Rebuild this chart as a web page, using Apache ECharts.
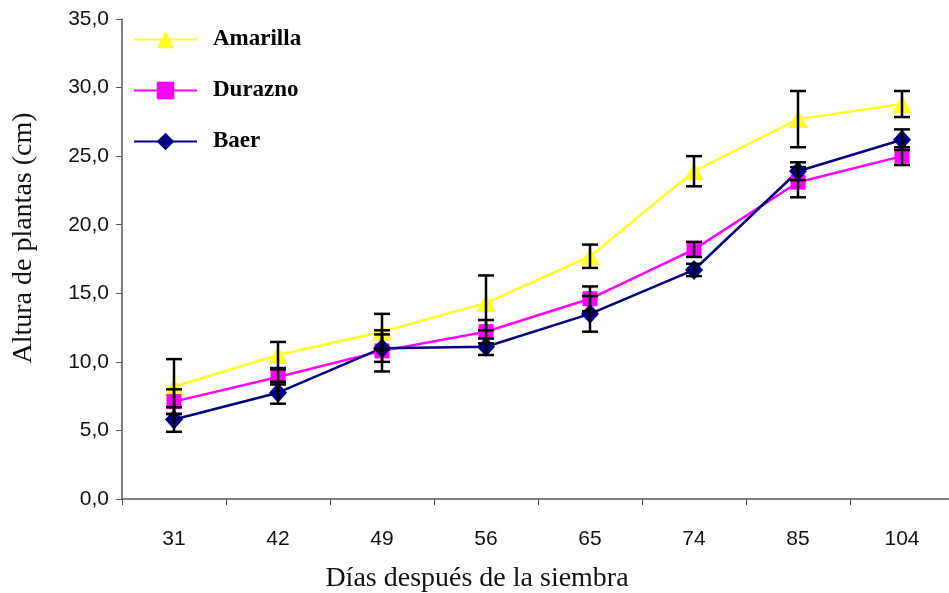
<!DOCTYPE html>
<html>
<head>
<meta charset="utf-8">
<script src="https://cdn.jsdelivr.net/npm/echarts@6/dist/echarts.min.js"></script>
<style>
  html, body { margin: 0; padding: 0; background: #ffffff; }
  #chart { width: 949px; height: 593px; }
</style>
</head>
<body>
<div id="chart"></div>
<script>
// Days after sowing
const days = ['31', '42', '49', '56', '65', '74', '85', '104'];

// Mean plant height (cm) per variety
const amarilla = [8.2, 10.5, 12.2, 14.3, 17.7, 23.9, 27.7, 28.8];
const durazno  = [7.1, 8.9, 10.8, 12.2, 14.6, 18.2, 23.1, 25.0];
const baer     = [5.8, 7.75, 11.0, 11.1, 13.5, 16.7, 23.9, 26.2];

// Standard error (cm) per point
const amarillaErr = [2.0, 0.95, 1.3, 2.0, 0.85, 1.1, 2.05, 0.95];
const duraznoErr  = [0.9, 0.55, 1.5, 0.85, 0.9, 0.55, 1.1, 0.65];
const baerErr     = [0.9, 0.8, 1.0, 0.6, 1.3, 0.45, 0.65, 0.75];

const yTicks = { min: 0, max: 35, interval: 5 };

const serifFont = '"Liberation Serif", "DejaVu Serif", serif';
const sansFont = '"Liberation Sans", Arial, sans-serif';

const chart = echarts.init(document.getElementById('chart'));

function errorSeries(name, values, errs) {
  return {
    name: name + ' (error)',
    type: 'custom',
    z: 5,
    silent: true,
    data: values.map((v, i) => [i, v - errs[i], v + errs[i]]),
    renderItem: function (params, api) {
      const lo = api.coord([api.value(0), api.value(1)]);
      const hi = api.coord([api.value(0), api.value(2)]);
      const half = 8;
      const style = { stroke: '#000000', lineWidth: 2.5 };
      return {
        type: 'group',
        children: [
          { type: 'line', shape: { x1: lo[0], y1: lo[1], x2: hi[0], y2: hi[1] }, style },
          { type: 'line', shape: { x1: hi[0] - half, y1: hi[1], x2: hi[0] + half, y2: hi[1] }, style },
          { type: 'line', shape: { x1: lo[0] - half, y1: lo[1], x2: lo[0] + half, y2: lo[1] }, style }
        ]
      };
    }
  };
}

function lineSeries(name, values, color, symbol, size) {
  return {
    name: name,
    type: 'line',
    data: values,
    z: 3,
    symbol: symbol,
    symbolSize: size,
    showAllSymbol: true,
    lineStyle: { color: color, width: 2.5 },
    itemStyle: { color: color, borderWidth: 0 }
  };
}

const option = {
  backgroundColor: '#ffffff',
  animation: false,
  grid: {
    left: 122, top: 19, width: 832, height: 480,
    containLabel: false,
    outerBoundsMode: 'none'
  },
  legend: {
    orient: 'vertical',
    left: 133,
    top: 28,
    padding: 0,
    itemWidth: 63,
    itemHeight: 22,
    itemGap: 28,
    data: ['Amarilla', 'Durazno', 'Baer'],
    textStyle: {
      fontFamily: serifFont,
      fontWeight: 'bold',
      fontSize: 23,
      lineHeight: 22,
      color: '#000000',
      padding: [0, 0, 0, 11]
    }
  },
  xAxis: {
    type: 'category',
    data: days,
    boundaryGap: true,
    axisLine: { lineStyle: { color: '#555555', width: 1.5 } },
    axisTick: { show: true, alignWithLabel: false, inside: false, length: 6, lineStyle: { color: '#555555' } },
    axisLabel: {
      margin: 30,
      fontFamily: sansFont,
      fontSize: 21,
      color: '#111111'
    },
    splitLine: { show: false },
    name: 'Días después de la siembra',
    nameLocation: 'middle',
    nameGap: 66,
    nameTextStyle: {
      fontFamily: serifFont,
      fontSize: 28,
      color: '#111111',
      padding: [0, 122, 0, 0]
    }
  },
  yAxis: {
    type: 'value',
    min: yTicks.min,
    max: yTicks.max,
    interval: yTicks.interval,
    axisLine: { show: true, lineStyle: { color: '#555555', width: 1.5 } },
    axisTick: { show: true, inside: false, length: 6, lineStyle: { color: '#555555' } },
    splitLine: { show: false },
    axisLabel: {
      margin: 13,
      fontFamily: sansFont,
      fontSize: 21,
      color: '#111111',
      formatter: v => v.toFixed(1).replace('.', ',')
    }
  },
  graphic: [{
    type: 'text',
    x: 24,
    y: 238,
    rotation: Math.PI / 2,
    style: {
      text: 'Altura de plantas (cm)',
      fontFamily: serifFont,
      fontSize: 28,
      fill: '#111111',
      textAlign: 'center',
      textVerticalAlign: 'middle'
    }
  }],
  series: [
    lineSeries('Amarilla', amarilla, '#ffff26', 'triangle', [20, 18]),
    lineSeries('Durazno', durazno, '#ff00ff', 'rect', [15, 15]),
    lineSeries('Baer', baer, '#000080', 'diamond', [18, 20]),
    errorSeries('Amarilla', amarilla, amarillaErr),
    errorSeries('Durazno', durazno, duraznoErr),
    errorSeries('Baer', baer, baerErr)
  ]
};

chart.setOption(option);
</script>
</body>
</html>
